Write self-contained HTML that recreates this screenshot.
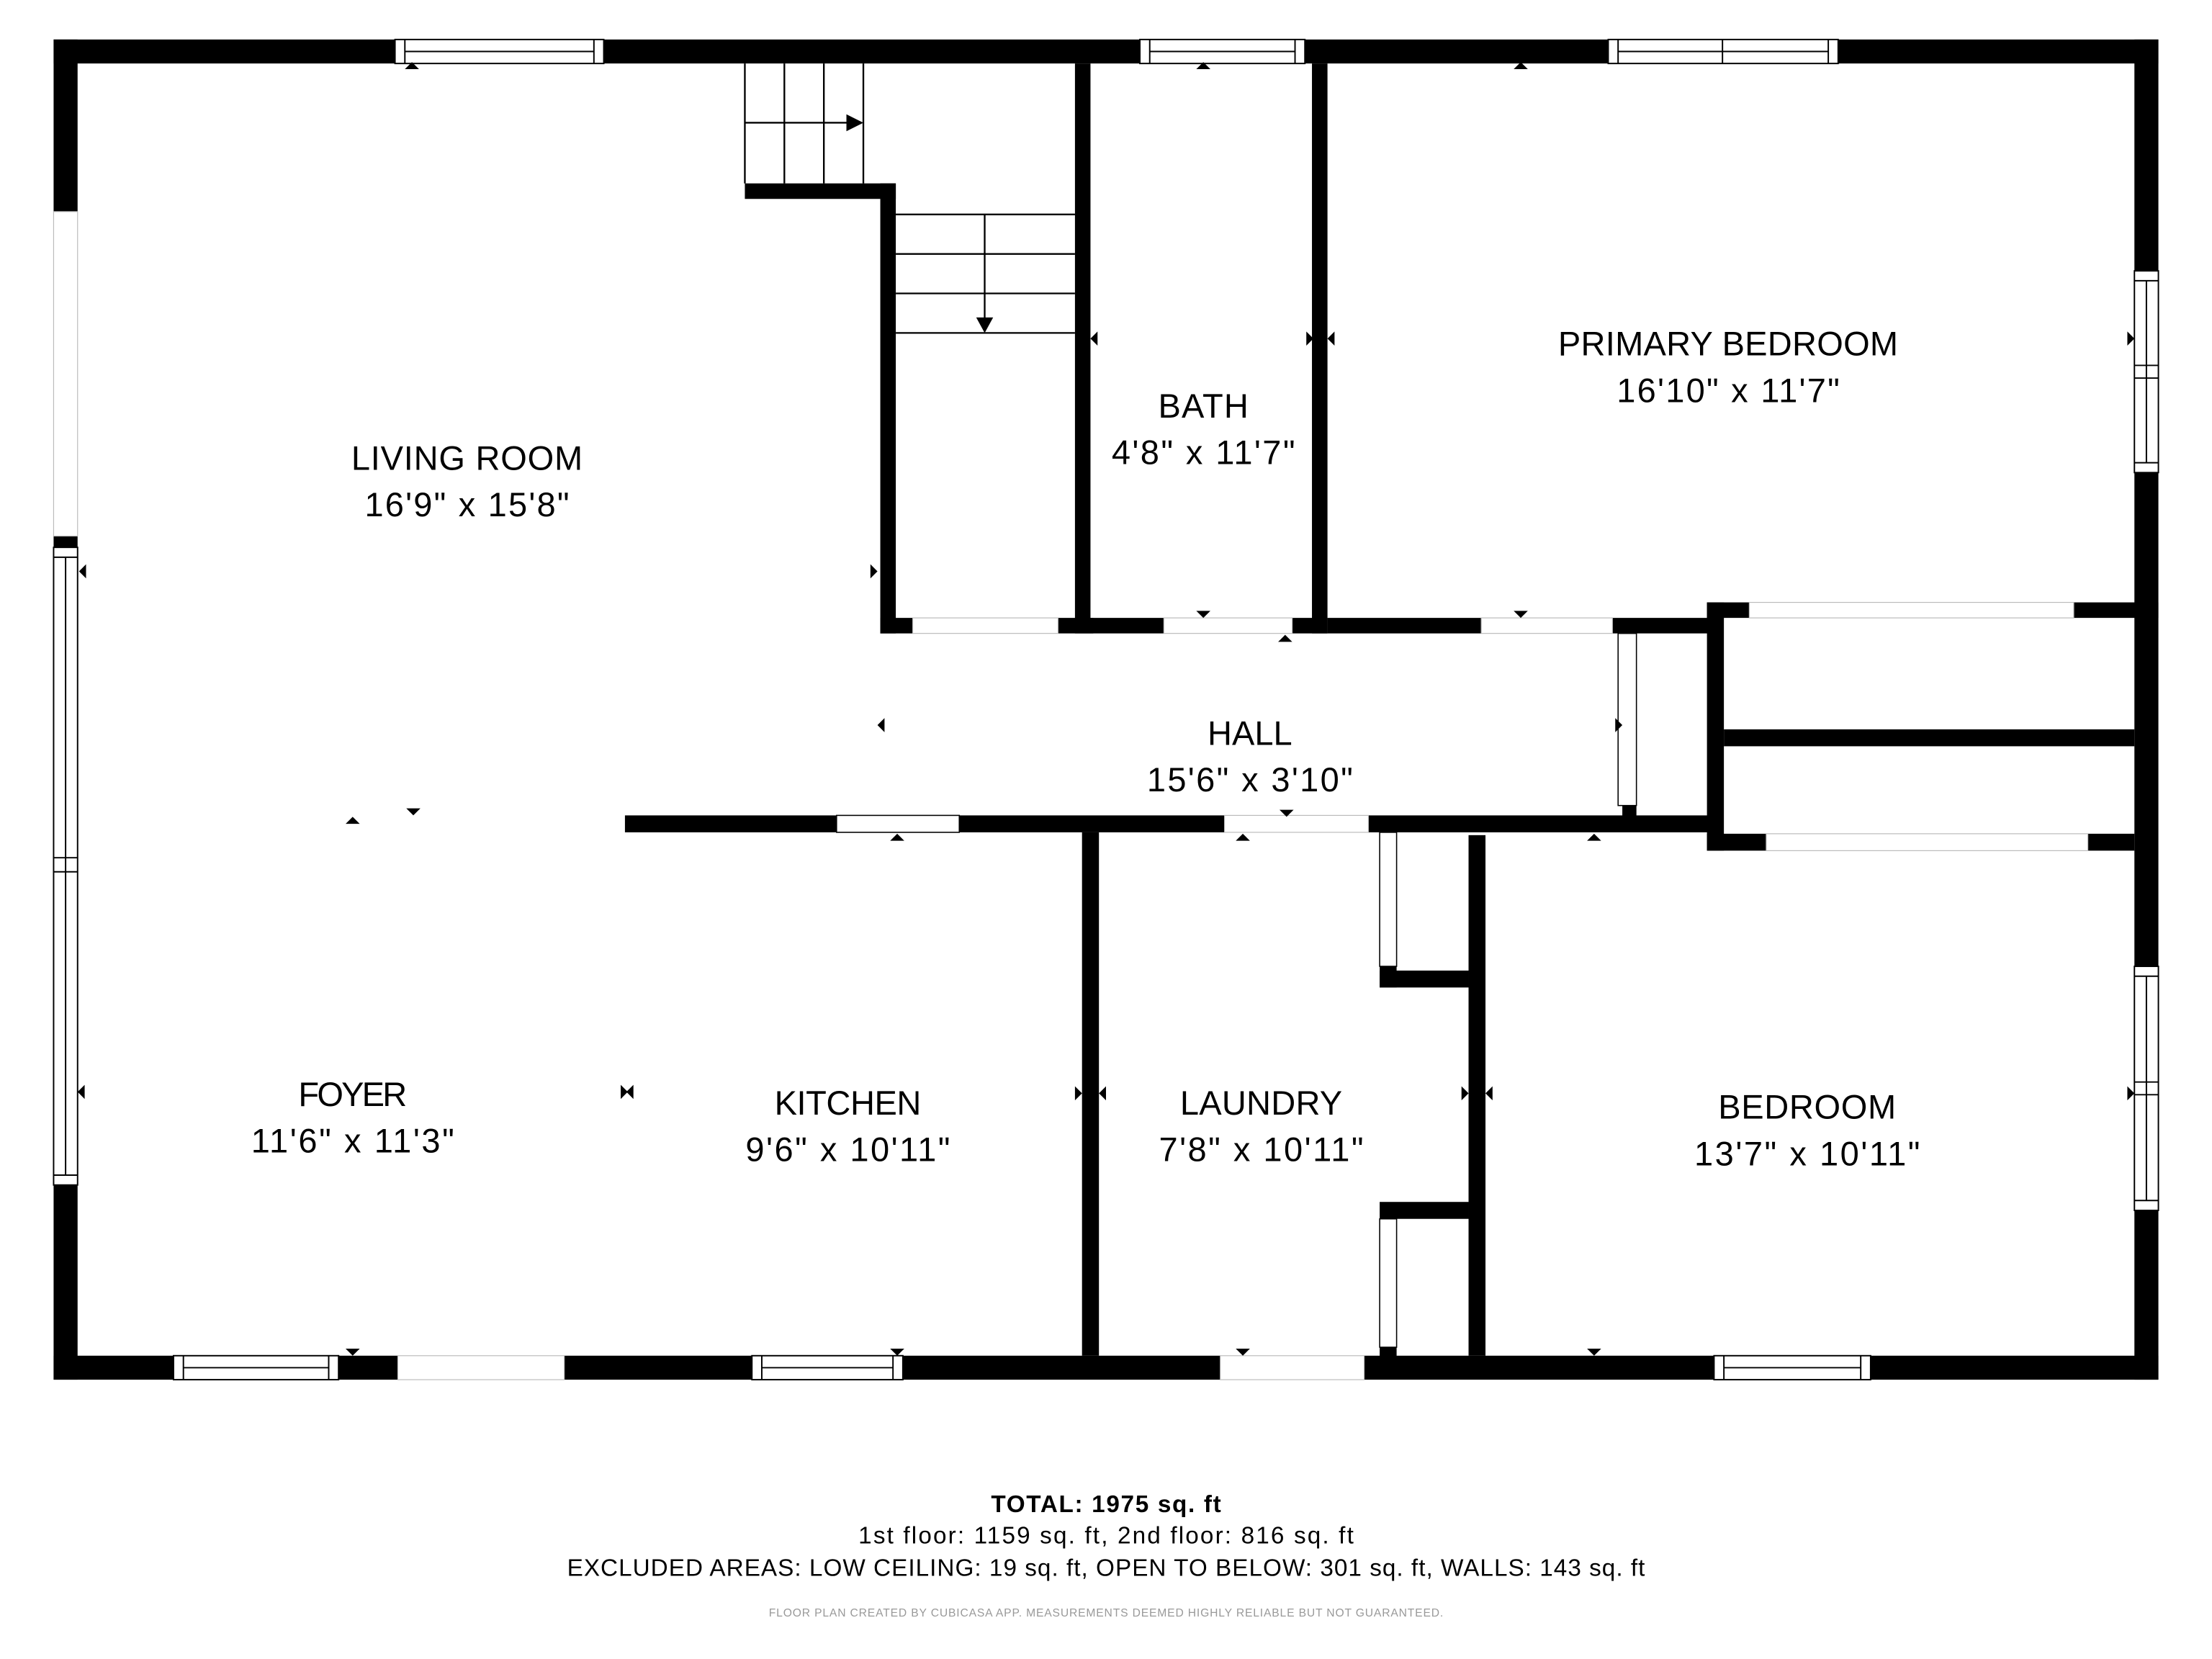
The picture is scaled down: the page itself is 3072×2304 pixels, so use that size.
<!DOCTYPE html>
<html><head><meta charset="utf-8"><style>
html,body{margin:0;padding:0;background:#fff}
svg{display:block}
text{font-family:"Liberation Sans",sans-serif;fill:#000}
</style></head><body>
<svg width="3072" height="2304" viewBox="0 0 1568 1176" preserveAspectRatio="none" xmlns="http://www.w3.org/2000/svg">
<rect width="1568" height="1176" fill="#fff"/>
<g fill="#000">
<rect x="38" y="28" width="1492" height="17"/>
<rect x="38" y="28" width="17" height="122"/>
<rect x="38" y="380" width="17" height="598"/>
<rect x="38" y="961" width="1492" height="17"/>
<rect x="1513" y="28" width="17" height="950"/>
<rect x="528" y="130" width="107" height="11"/>
<rect x="624" y="130" width="11" height="319"/>
<rect x="624" y="438" width="151" height="11"/>
<rect x="762" y="45" width="11" height="404"/>
<rect x="773" y="438" width="168" height="11"/>
<rect x="930" y="45" width="11" height="404"/>
<rect x="941" y="438" width="279" height="11"/>
<rect x="1150" y="571" width="10" height="12"/>
<rect x="1210" y="427" width="12" height="176"/>
<rect x="1210" y="427" width="30" height="11"/>
<rect x="1470" y="427" width="60" height="11"/>
<rect x="1222" y="517" width="291" height="12"/>
<rect x="1210" y="591" width="42" height="12"/>
<rect x="1480" y="591" width="33" height="12"/>
<rect x="443" y="578" width="777" height="12"/>
<rect x="767" y="590" width="12" height="371"/>
<rect x="1041" y="592" width="12" height="369"/>
<rect x="978" y="685" width="12" height="15"/>
<rect x="978" y="688" width="63" height="12"/>
<rect x="978" y="852" width="63" height="12"/>
<rect x="978" y="955" width="12" height="8"/>
</g>
<g fill="#fff" stroke="#bbb" stroke-width="0.6">
<rect x="38" y="150" width="17" height="230"/>
<rect x="282" y="961" width="118" height="17"/>
<rect x="865" y="961" width="102" height="17"/>
<rect x="647" y="438" width="103" height="11"/>
<rect x="825" y="438" width="91" height="11"/>
<rect x="1050" y="438" width="93" height="11"/>
<rect x="1240" y="427" width="230" height="11"/>
<rect x="1252" y="591" width="228" height="12"/>
<rect x="868" y="578" width="102" height="12"/>
</g>
<g fill="#fff" stroke="#000" stroke-width="0.8">
<rect x="1147" y="449" width="13" height="122"/>
<rect x="978" y="590" width="12" height="95"/>
<rect x="978" y="864" width="12" height="91"/>
<rect x="593" y="578" width="87" height="12"/>
</g>
<g fill="#fff" stroke="#000" stroke-width="1">
<rect x="280" y="28" width="148" height="17"/><line x1="287" y1="36.5" x2="421" y2="36.5"/><line x1="287" y1="28" x2="287" y2="45"/><line x1="421" y1="28" x2="421" y2="45"/>
<rect x="808" y="28" width="117" height="17"/><line x1="815" y1="36.5" x2="918" y2="36.5"/><line x1="815" y1="28" x2="815" y2="45"/><line x1="918" y1="28" x2="918" y2="45"/>
<rect x="1140" y="28" width="163" height="17"/><line x1="1147" y1="36.5" x2="1296" y2="36.5"/><line x1="1221" y1="28" x2="1221" y2="45"/><line x1="1147" y1="28" x2="1147" y2="45"/><line x1="1296" y1="28" x2="1296" y2="45"/>
<rect x="123" y="961" width="117" height="17"/><line x1="130" y1="969.5" x2="233" y2="969.5"/><line x1="130" y1="961" x2="130" y2="978"/><line x1="233" y1="961" x2="233" y2="978"/>
<rect x="533" y="961" width="107" height="17"/><line x1="540" y1="969.5" x2="633" y2="969.5"/><line x1="540" y1="961" x2="540" y2="978"/><line x1="633" y1="961" x2="633" y2="978"/>
<rect x="1215" y="961" width="111" height="17"/><line x1="1222" y1="969.5" x2="1319" y2="969.5"/><line x1="1222" y1="961" x2="1222" y2="978"/><line x1="1319" y1="961" x2="1319" y2="978"/>
<rect x="38" y="388" width="17" height="452"/><line x1="46.5" y1="395" x2="46.5" y2="833"/><line x1="38" y1="395" x2="55" y2="395"/><line x1="38" y1="608" x2="55" y2="608"/><line x1="38" y1="618" x2="55" y2="618"/><line x1="38" y1="833" x2="55" y2="833"/>
<rect x="1513" y="192" width="17" height="143"/><line x1="1521.5" y1="199" x2="1521.5" y2="328"/><line x1="1513" y1="199" x2="1530" y2="199"/><line x1="1513" y1="259" x2="1530" y2="259"/><line x1="1513" y1="268" x2="1530" y2="268"/><line x1="1513" y1="328" x2="1530" y2="328"/>
<rect x="1513" y="685" width="17" height="173"/><line x1="1521.5" y1="692" x2="1521.5" y2="851"/><line x1="1513" y1="692" x2="1530" y2="692"/><line x1="1513" y1="767" x2="1530" y2="767"/><line x1="1513" y1="776" x2="1530" y2="776"/><line x1="1513" y1="851" x2="1530" y2="851"/>
</g>
<g stroke="#000" stroke-width="1.2" fill="none">
<line x1="528" y1="45" x2="528" y2="130"/><line x1="556" y1="45" x2="556" y2="130"/><line x1="584" y1="45" x2="584" y2="130"/><line x1="612" y1="45" x2="612" y2="130"/>
<line x1="528" y1="87" x2="604" y2="87"/>
<line x1="635" y1="152" x2="762" y2="152"/><line x1="635" y1="180" x2="762" y2="180"/><line x1="635" y1="208" x2="762" y2="208"/><line x1="635" y1="236" x2="762" y2="236"/>
<line x1="698" y1="152" x2="698" y2="228"/>
</g>
<g fill="#000">
<polygon points="600,81 612,87 600,93"/>
<polygon points="692,225 704,225 698,236"/>
<polygon points="287,49 297,49 292,44"/><polygon points="848,49 858,49 853,44"/><polygon points="1073,49 1083,49 1078,44"/>
<polygon points="56,400 61,405 56,410" transform="rotate(180 58.5 405)"/><polygon points="617,400 622,405 617,410"/>
<polygon points="627,509 622,514 627,519"/><polygon points="1145,509 1150,514 1145,519"/>
<polygon points="245,584 255,584 250,579"/><polygon points="288,573 298,573 293,578"/>
<polygon points="848,433 858,433 853,438"/><polygon points="906,455 916,455 911,450"/><polygon points="1073,433 1083,433 1078,438"/>
<polygon points="907,574 917,574 912,579"/><polygon points="631,596 641,596 636,591"/><polygon points="876,596 886,596 881,591"/><polygon points="1125,596 1135,596 1130,591"/>
<polygon points="778,235 773,240 778,245"/><polygon points="926,235 931,240 926,245"/><polygon points="946,235 941,240 946,245"/><polygon points="1508,235 1513,240 1508,245"/>
<polygon points="60,769 55,774 60,779"/><polygon points="440,769 445,774 440,779"/><polygon points="449,769 444,774 449,779"/>
<polygon points="762,770 767,775 762,780"/><polygon points="784,770 779,775 784,780"/><polygon points="1036,770 1041,775 1036,780"/><polygon points="1058,770 1053,775 1058,780"/><polygon points="1508,770 1513,775 1508,780"/>
<polygon points="245,956 255,956 250,961"/><polygon points="631,956 641,956 636,961"/><polygon points="876,956 886,956 881,961"/><polygon points="1125,956 1135,956 1130,961"/>
</g>
<g font-size="24" text-anchor="middle">
<text x="331" y="333" textLength="164">LIVING ROOM</text><text x="331" y="366" textLength="145">16'9" x 15'8"</text>
<text x="853" y="296" textLength="64">BATH</text><text x="853" y="329" textLength="130">4'8" x 11'7"</text>
<text x="1225" y="252" textLength="241">PRIMARY BEDROOM</text><text x="1225" y="285" textLength="158">16'10" x 11'7"</text>
<text x="886" y="528" textLength="60">HALL</text><text x="886" y="561" textLength="146">15'6" x 3'10"</text>
<text x="250" y="784" textLength="77">FOYER</text><text x="250" y="817" textLength="144">11'6" x 11'3"</text>
<text x="601" y="790" textLength="104">KITCHEN</text><text x="601" y="823" textLength="145">9'6" x 10'11"</text>
<text x="894" y="790" textLength="115">LAUNDRY</text><text x="894" y="823" textLength="145">7'8" x 10'11"</text>
<text x="1281" y="793" textLength="126">BEDROOM</text><text x="1281" y="826" textLength="160">13'7" x 10'11"</text>
</g>
<g text-anchor="middle">
<text x="784" y="1072" font-size="17" font-weight="bold" textLength="163">TOTAL: 1975 sq. ft</text>
<text x="784" y="1094" font-size="17" textLength="351">1st floor: 1159 sq. ft, 2nd floor: 816 sq. ft</text>
<text x="784" y="1117" font-size="17" textLength="764">EXCLUDED AREAS: LOW CEILING: 19 sq. ft, OPEN TO BELOW: 301 sq. ft, WALLS: 143 sq. ft</text>
<text x="784" y="1146" font-size="8" style="fill:#999" textLength="478">FLOOR PLAN CREATED BY CUBICASA APP. MEASUREMENTS DEEMED HIGHLY RELIABLE BUT NOT GUARANTEED.</text>
</g>
</svg>
</body></html>
